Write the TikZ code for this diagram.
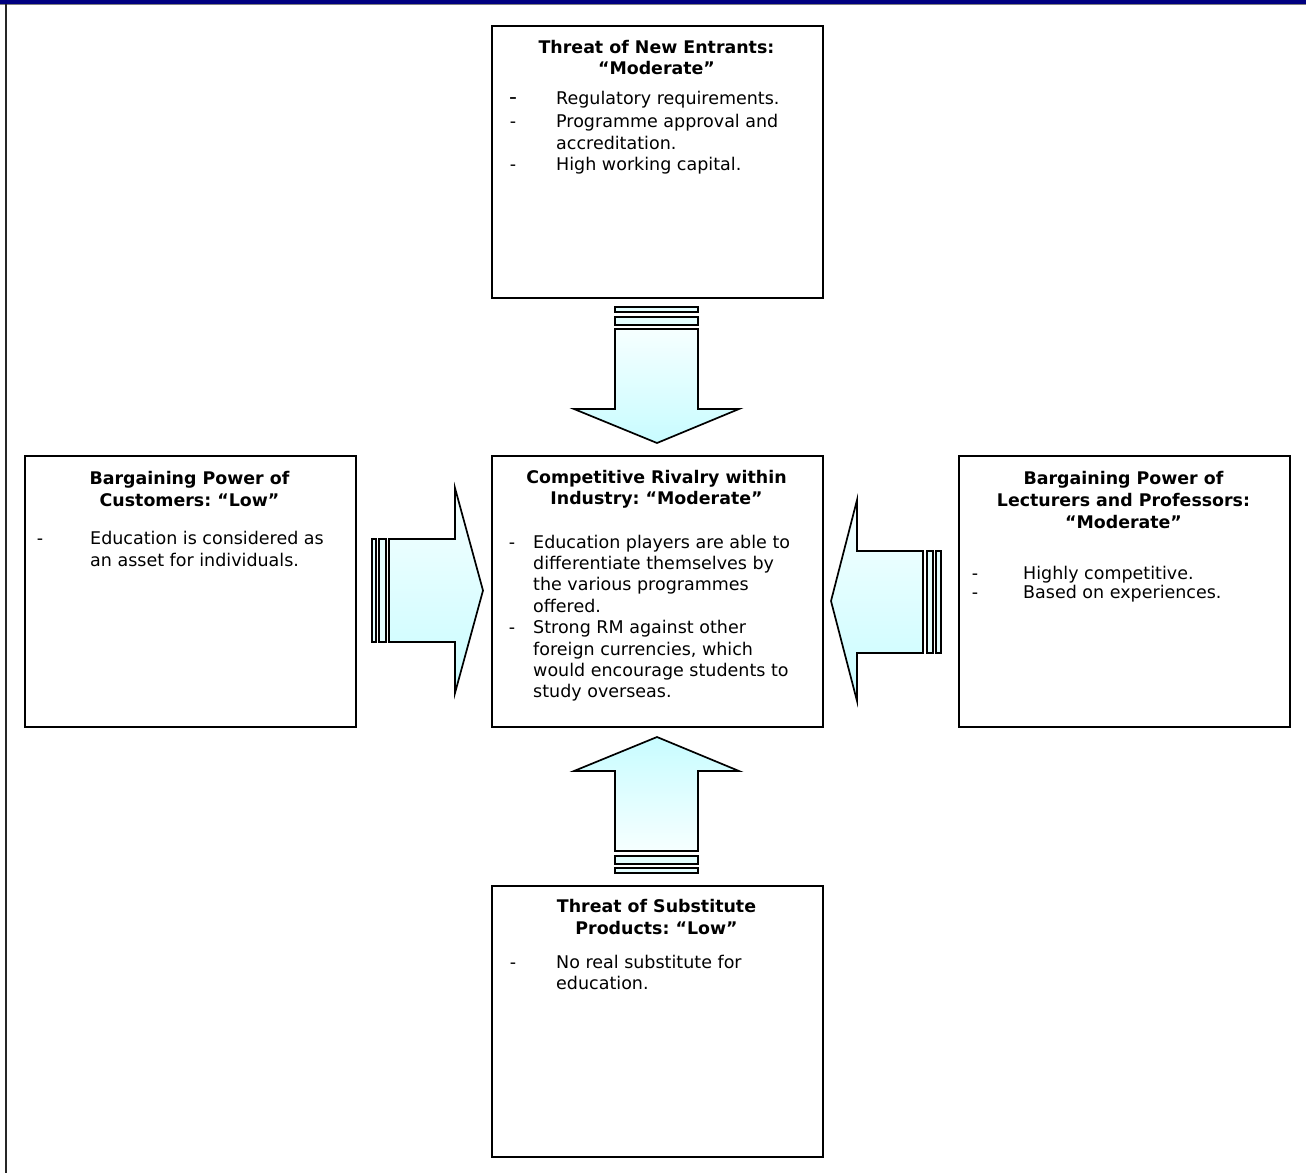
\documentclass[tikz,border=0pt]{standalone}
\usepackage{fontspec}
\setmainfont{DejaVu Sans}
\frenchspacing
\definecolor{navy}{HTML}{000080}
\definecolor{acyan}{HTML}{C8FCFF}
\definecolor{alight}{HTML}{F6FFFF}
\definecolor{barfill}{HTML}{E4FEFF}
\tikzset{
  box/.style={draw=black, line width=1.6pt, minimum width=331pt, anchor=north west, inner sep=0pt},
  ttl/.style={font=\fontsize{17.4}{20}\selectfont\bfseries\frenchspacing, anchor=base, inner sep=0pt},
  txt/.style={font=\fontsize{17.5}{20}\selectfont\frenchspacing, anchor=base west, inner sep=0pt},
  dsh/.style={font=\fontsize{17.5}{20}\selectfont, anchor=base, inner sep=0pt},
  arrowbody/.style={draw=black, line width=1.7pt, line join=miter},
  bar/.style={draw=black, line width=1.4pt, fill=barfill},
}
\newcommand\textlines[5]{%
  \foreach \t [count=\i] in {#5}
    \node[txt] (#1-\i) at (#2, {#3+#4*(\i-1)}) {\t};}
\begin{document}
\begin{tikzpicture}[x=1pt,y=-1pt]
\useasboundingbox (0,0) rectangle (1306,1173);
% frame
\fill[navy] (0,0) rectangle (1306,3.6);
\draw[gray, line width=0.8pt] (0,4.3) -- (1306,4.3);
\draw[black!85, line width=2pt] (6,4) -- (6,1173);

% boxes
\node[box, minimum height=272pt] (top) at (491,25) {};
\node[box, minimum height=271pt] (mid) at (491,455) {};
\node[box, minimum height=271pt] (lft) at (24,455) {};
\node[box, minimum height=271pt] (rgt) at (958,455) {};
\node[box, minimum height=271pt] (bot) at (491,885) {};

% top box text
\node[ttl] (topT1) at (656.5,53) {Threat of New Entrants:};
\node[ttl] (topT2) at (656.5,74) {“Moderate”};
\node[dsh, font=\fontsize{22}{24}\selectfont] (topD1) at (513,104) {-};
\node[dsh] (topD2) at (513,127.5) {-};
\node[dsh] (topD3) at (513,170.5) {-};
\node[txt] (topL1) at (556,104) {Regulatory requirements.};
\node[txt] (topL2) at (556,127.5) {Programme approval and};
\node[txt] (topL3) at (556,149) {accreditation.};
\node[txt] (topL4) at (556,170.5) {High working capital.};

% middle box text
\node[ttl] (midT1) at (656.5,483) {Competitive Rivalry within};
\node[ttl] (midT2) at (656.5,504) {Industry: “Moderate”};
\node[dsh] (midD1) at (512,548) {-};
\node[dsh] (midD2) at (512,633) {-};
\textlines{mid}{533}{548}{21.4}{Education players are able to, differentiate themselves by, the various programmes, offered., Strong RM against other, {foreign currencies, which}, would encourage students to, study overseas.}

% left box text
\node[ttl] (lftT1) at (189.5,484) {Bargaining Power of};
\node[ttl] (lftT2) at (189.5,506) {Customers: “Low”};
\node[dsh] (lftD1) at (40,544) {-};
\textlines{lft}{90}{544}{22}{Education is considered as, an asset for individuals.}

% right box text
\node[ttl] (rgtT1) at (1123.5,484) {Bargaining Power of};
\node[ttl] (rgtT2) at (1123.5,506) {Lecturers and Professors:};
\node[ttl] (rgtT3) at (1123.5,528) {“Moderate”};
\node[dsh] (rgtD1) at (975,579) {-};
\node[dsh] (rgtD2) at (975,598) {-};
\textlines{rgt}{1023}{579}{19}{Highly competitive., Based on experiences.}

% bottom box text
\node[ttl] (botT1) at (656.5,912) {Threat of Substitute};
\node[ttl] (botT2) at (656.5,934) {Products: “Low”};
\node[dsh] (botD1) at (513,968) {-};
\textlines{bot}{556}{968}{21.3}{No real substitute for, education.}

% down arrow
\draw[bar] (615,307) rectangle (698,312);
\draw[bar] (615,317) rectangle (698,325);
\draw[arrowbody, top color=alight, bottom color=acyan]
  (615,329) -- (698,329) -- (698,409) -- (739,409) -- (657,443) -- (574,409) -- (615,409) -- cycle;

% up arrow
\draw[bar] (615,856) rectangle (698,864);
\draw[bar] (615,868) rectangle (698,873);
\draw[arrowbody, top color=acyan, bottom color=alight]
  (657,737) -- (739,771) -- (698,771) -- (698,851) -- (615,851) -- (615,771) -- (574,771) -- cycle;

% right arrow
\draw[bar] (372,539) rectangle (376,642);
\draw[bar] (379,539) rectangle (386,642);
\draw[arrowbody, top color=alight, bottom color=acyan]
  (389,539) -- (455,539) -- (455,488) -- (483,590.5) -- (455,693) -- (455,642) -- (389,642) -- cycle;

% left arrow
\draw[bar] (927,551) rectangle (933,653);
\draw[bar] (936,551) rectangle (941,653);
\draw[arrowbody, top color=alight, bottom color=acyan]
  (831,601) -- (857,500) -- (857,551) -- (923,551) -- (923,653) -- (857,653) -- (857,701) -- cycle;
\end{tikzpicture}
\end{document}
